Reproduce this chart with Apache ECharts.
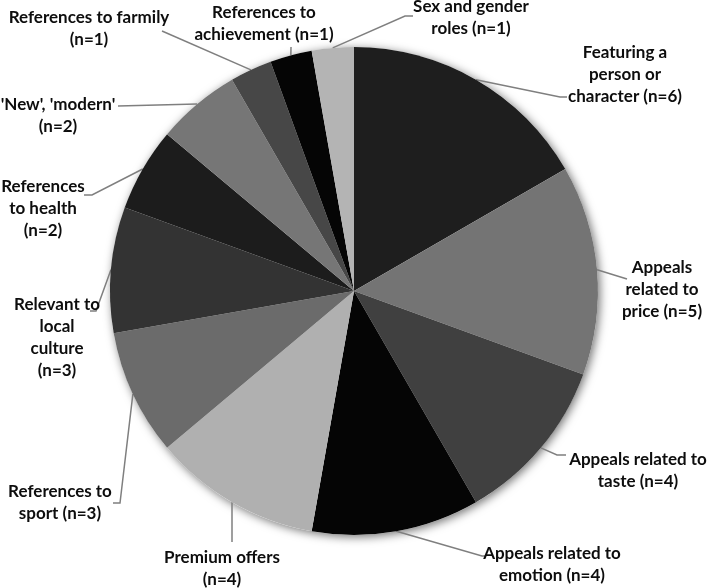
<!DOCTYPE html>
<html>
<head>
<meta charset="utf-8">
<script src="https://cdn.jsdelivr.net/npm/echarts@6/dist/echarts.min.js"></script>
<style>html,body{margin:0;padding:0;background:#fff;}#c{width:708px;height:588px;}</style>
</head>
<body>
<div id="c"></div>
<script>
const categories = [
  "Featuring a\nperson or\ncharacter (n=6)",
  "Appeals\nrelated to\nprice (n=5)",
  "Appeals related to\ntaste (n=4)",
  "Appeals related to\nemotion (n=4)",
  "Premium offers\n(n=4)",
  "References to\nsport (n=3)",
  "Relevant to\nlocal\nculture\n(n=3)",
  "References\nto health\n(n=2)",
  "'New', 'modern'\n(n=2)",
  "References to farmily\n(n=1)",
  "References to\nachievement (n=1)",
  "Sex and gender\nroles (n=1)"
];
const counts = [6, 5, 4, 4, 4, 3, 3, 2, 2, 1, 1, 1];
const colors = ["#1e1e1e", "#747474", "#404040", "#050505", "#b0b0b0", "#6b6b6b",
                "#333333", "#1c1c1c", "#767676", "#474747", "#050505", "#b4b4b4"];
// label block centres (layout only)
const labelPos = [
  [625, 75], [662, 290], [638, 471], [552, 565], [222, 569], [60, 503],
  [57, 338], [43, 209], [58, 116], [89, 29], [264, 24], [471, 18]
];
// leader line bend/end points (layout only; start point comes from the pie)
const leaderEnds = [
  [[560, 97], [567, 97]],
  [[627, 279]],
  [[557, 455], [566, 455]],
  [[482, 556], [486, 556]],
  [[232, 542]],
  [[120, 503], [113, 503]],
  [[96, 311], [90, 311]],
  [[92, 195], [84, 195]],
  [[118, 106]],
  [[162, 31]],
  [[291, 47]],
  [[405, 16], [413, 16]]
];

const font = { fontFamily: 'Lato', fontWeight: 'bold', fontSize: 17, lineHeight: 22, color: '#0d0d0d', align: 'center' };

const chart = echarts.init(document.getElementById('c'));
chart.setOption({
  animation: false,
  series: [
    {
      type: 'pie', center: [354, 291], radius: 244, silent: true, z: 1,
      label: { show: false }, labelLine: { show: false },
      data: [{ value: 1, itemStyle: { color: '#ffffff', shadowBlur: 10, shadowColor: 'rgba(0,0,0,0.55)', shadowOffsetX: 2, shadowOffsetY: 2 } }]
    },
    {
      type: 'pie', center: [354, 291], radius: 244, startAngle: 90, clockwise: true, z: 2,
      avoidLabelOverlap: false,
      data: categories.map((c, i) => ({ name: c, value: counts[i], itemStyle: { color: colors[i] } })),
      itemStyle: { borderWidth: 0 },
      label: Object.assign({
        show: true, position: 'outside',
        formatter: p => p.name.split('\n').map(s => '{a|' + s + '}').join('\n'),
        rich: { a: Object.assign({}, font) }
      }, font),
      labelLine: { show: true, length: 10, length2: 10, lineStyle: { color: '#7f7f7f', width: 1.5 } },
      labelLayout: function (p) {
        const i = p.dataIndex;
        const pos = labelPos[i];
        const res = { x: pos[0], y: pos[1], align: 'center', verticalAlign: 'middle', hideOverlap: false };
        if (p.labelLinePoints && p.labelLinePoints.length) {
          const start = p.labelLinePoints[0];
          res.labelLinePoints = [[start[0], start[1]]].concat(leaderEnds[i]);
        }
        return res;
      }
    }
  ]
});
</script>
</body>
</html>
